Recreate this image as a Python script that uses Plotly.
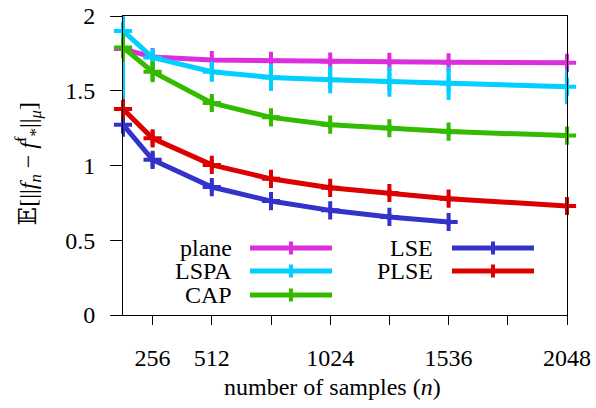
import plotly.graph_objects as go

n_samples = [128, 256, 512, 768, 1024, 1280, 1536, 2048]
n_samples_lse = [128, 256, 512, 768, 1024, 1280, 1536]

plane = [1.78, 1.725, 1.705, 1.70, 1.695, 1.693, 1.69, 1.687]
plane_err = [0.01, 0.01, 0.02, 0.02, 0.02, 0.02, 0.02, 0.02]

lspa = [1.90, 1.722, 1.627, 1.589, 1.573, 1.56, 1.549, 1.527]
lspa_err_plus = [0.10, 0.03, 0.067, 0.09, 0.09, 0.10, 0.11, 0.117]
lspa_err_minus = [0.58, 0.03, 0.067, 0.09, 0.09, 0.10, 0.11, 0.117]

cap = [1.789, 1.627, 1.418, 1.322, 1.273, 1.249, 1.227, 1.20]
cap_err = [0.095, 0.07, 0.05, 0.03, 0.025, 0.025, 0.025, 0.025]

lse = [1.273, 1.038, 0.856, 0.762, 0.70, 0.656, 0.622]
lse_err = [0.08, 0.05, 0.03, 0.025, 0.02, 0.02, 0.02]

plse = [1.378, 1.182, 1.004, 0.911, 0.851, 0.816, 0.778, 0.729]
plse_err = [0.067, 0.05, 0.035, 0.03, 0.025, 0.025, 0.025, 0.025]

x_tickvals = [256, 512, 1024, 1536, 2048]
x_ticktext = ["256", "512", "1024", "1536", "2048"]
y_tickvals = [0, 0.5, 1, 1.5, 2]
y_ticktext = ["0", "0.5", "1", "1.5", "2"]

names = ["plane", "LSPA", "CAP", "LSE", "PLSE"]
colors = ["#dd2edd", "#00cfff", "#33bb00", "#3333cc", "#dd0000"]

FONT = "Liberation Serif"
FS = 24

fig = go.Figure()

series = [
    (n_samples, plane, plane_err, plane_err),
    (n_samples, lspa, lspa_err_plus, lspa_err_minus),
    (n_samples, cap, cap_err, cap_err),
    (n_samples_lse, lse, lse_err, lse_err),
    (n_samples, plse, plse_err, plse_err),
]

for (xs, ys, ep, em), name, col in zip(series, names, colors):
    fig.add_trace(go.Scatter(
        x=xs, y=ys, name=name, mode="lines+markers",
        line=dict(color=col, width=5),
        marker=dict(symbol="cross-thin", size=13, line=dict(color=col, width=4), color=col),
        error_y=dict(type="data", symmetric=False, array=ep, arrayminus=em,
                     color=col, thickness=4, width=0),
        cliponaxis=False,
        showlegend=False,
    ))

# manual legend (paper coords)
L, R, T, B = 123, 29, 16, 93
W, H = 596 - L - R, 408 - T - B
def px(x):
    return (x - L) / W
def py(y):
    return (408 - B - y) / H

legend_items = [
    (0, 248, 234, 250, 332), (1, 271, 234, 250, 332), (2, 295, 234, 250, 332),
    (3, 248, 435, 452, 534), (4, 271, 435, 452, 534),
]
shapes = []
annotations = []
for idx, yrow, xtext, xs0, xs1 in legend_items:
    col = colors[idx]
    shapes.append(dict(type="line", xref="paper", yref="paper",
                       x0=px(xs0), x1=px(xs1), y0=py(yrow), y1=py(yrow),
                       line=dict(color=col, width=5)))
    xm = (xs0 + xs1) / 2
    shapes.append(dict(type="line", xref="paper", yref="paper",
                       x0=px(xm), x1=px(xm), y0=py(yrow - 6.5), y1=py(yrow + 6.5),
                       line=dict(color=col, width=4)))
    annotations.append(dict(text=names[idx], xref="paper", yref="paper",
                            x=px(xtext), y=py(yrow), xanchor="right", yanchor="middle",
                            showarrow=False, font=dict(family=FONT, size=FS, color="black")))

annotations.append(dict(
    text="\U0001D53C[||<i>f</i><sub><i>n</i></sub> \u2212 <i>f</i><sup>f</sup><sub>*</sub>||<sub><i>\u03bc</i></sub>]",
    xref="paper", yref="paper", x=px(28), y=py(164), textangle=-90,
    xanchor="center", yanchor="middle", showarrow=False,
    font=dict(family=FONT, size=FS, color="black")))
annotations.append(dict(
    text="number of samples (<i>n</i>)", xref="paper", yref="paper",
    x=px(332), y=py(387), xanchor="center", yanchor="middle", showarrow=False,
    font=dict(family=FONT, size=FS, color="black")))

fig.update_layout(
    template="none",
    width=596, height=408,
    margin=dict(l=L, r=R, t=T, b=B, autoexpand=False),
    paper_bgcolor="white", plot_bgcolor="white",
    font=dict(family=FONT, size=FS, color="black"),
    shapes=shapes, annotations=annotations,
    xaxis=dict(range=[128, 2048], tickvals=x_tickvals, ticktext=x_ticktext,
               automargin=False,
               showgrid=False, zeroline=False, showline=True, mirror=True,
               linecolor="black", linewidth=1, ticks="outside", ticklen=9,
               tickcolor="black", tickwidth=1, ticklabelstandoff=12,
               tickfont=dict(family=FONT, size=FS, color="black"),
               minor=dict(tick0=0, dtick=256, ticks="outside", ticklen=9,
                          tickcolor="black", tickwidth=1, showgrid=False)),
    yaxis=dict(range=[0, 2], tickvals=y_tickvals, ticktext=y_ticktext,
               automargin=False,
               showgrid=False, zeroline=False, showline=True, mirror=True,
               linecolor="black", linewidth=1, ticks="outside", ticklen=12,
               tickcolor="black", tickwidth=1, ticklabelstandoff=10,
               tickfont=dict(family=FONT, size=FS, color="black")),
)

post_js = r"""
document.body.style.margin='0';
function fixFonts(){
  document.querySelectorAll('svg text').forEach(function(t){
    t.style.fontFamily = '"Liberation Serif", "DejaVu Serif", serif';
  });
}
fixFonts();
setTimeout(fixFonts, 0);
setTimeout(fixFonts, 200);
"""

fig.write_html("out.html", config={"displayModeBar": False}, post_script=post_js)
